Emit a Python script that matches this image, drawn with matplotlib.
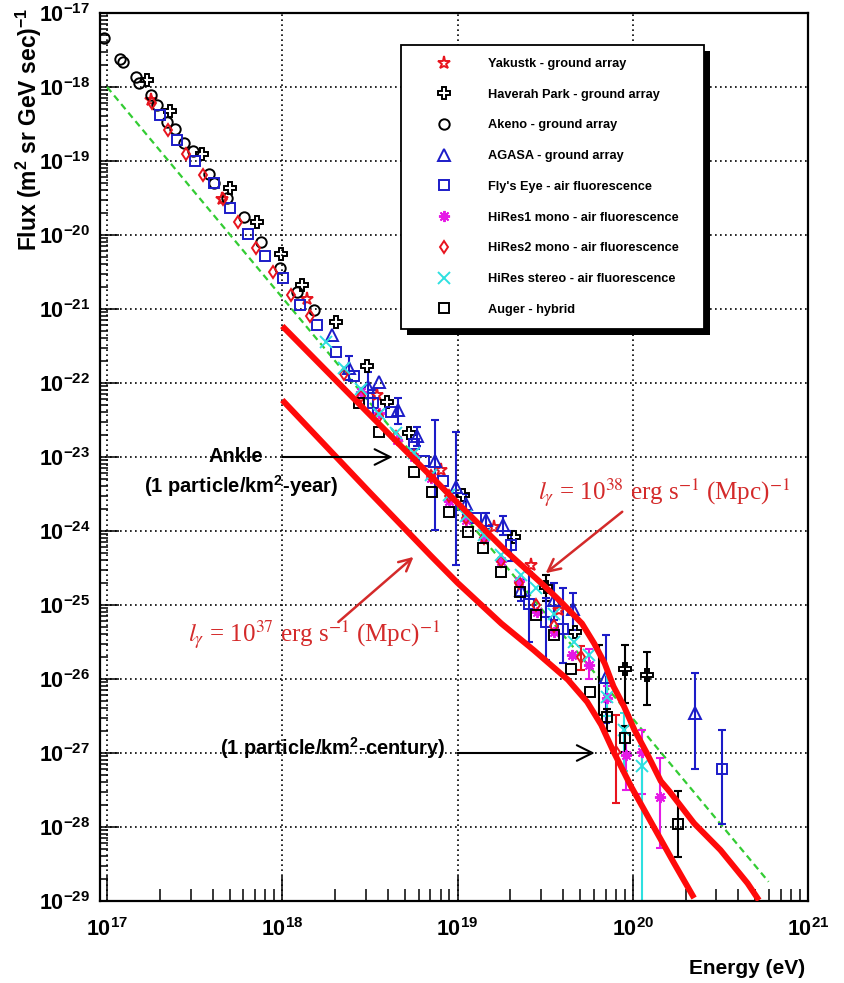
import numpy as np
import matplotlib
matplotlib.use("Agg")
import matplotlib.pyplot as plt
from matplotlib.ticker import FixedLocator, FuncFormatter, LogLocator, NullFormatter
from matplotlib.patches import Rectangle
from matplotlib.transforms import IdentityTransform

plt.rcParams['font.family'] = ['Liberation Sans', 'DejaVu Sans']
plt.rcParams['mathtext.fontset'] = 'custom'
plt.rcParams['mathtext.rm'] = 'Liberation Sans'
plt.rcParams['mathtext.bf'] = 'Liberation Sans:bold'
plt.rcParams['mathtext.it'] = 'Liberation Sans:italic'

# ---------------- data: log10(E / eV), log10(flux) ----------------
x_tick_exps = [17, 18, 19, 20, 21]
y_tick_exps = list(range(-29, -16))

yak_E = [17.25, 17.656, 18.143, 18.543, 18.905, 19.21, 19.42, 19.58]
yak_F = [-18.18, -19.51, -20.86, -22.16, -23.18, -23.94, -24.46, -25.07]

hp_E = [17.227, 17.36, 17.54, 17.70, 17.857, 17.99, 18.11, 18.305, 18.486, 18.60,
        18.724, 19.03, 19.325, 19.506, 19.668, 19.954, 20.08]
hp_F = [-17.91, -18.32, -18.90, -19.37, -19.82, -20.26, -20.68, -21.17, -21.77, -22.25,
        -22.67, -23.51, -24.08, -24.76, -25.36, -25.86, -25.95]
hp_errE = [19.506, 19.954, 20.08]
hp_errLo = [-24.95, -26.33, -26.35]
hp_errHi = [-24.60, -25.54, -25.64]

ak_E = [16.985, 17.074, 17.09, 17.166, 17.185, 17.25, 17.284, 17.34, 17.39, 17.437,
        17.49, 17.58, 17.61, 17.685, 17.784, 17.88, 17.985, 18.085, 18.18]
ak_F = [-17.34, -17.615, -17.66, -17.87, -17.95, -18.11, -18.24, -18.47, -18.57, -18.75,
        -18.87, -19.17, -19.30, -19.50, -19.76, -20.09, -20.45, -20.77, -21.02]

ag_E = [18.285, 18.38, 18.49, 18.55, 18.66, 18.77, 18.87, 18.99, 19.05, 19.16,
        19.26, 19.36, 19.55, 19.66, 19.85, 20.355]
ag_F = [-21.35, -21.80, -22.05, -21.98, -22.36, -22.72, -23.06, -23.40, -23.63, -23.85,
        -23.92, -24.80, -24.93, -25.05, -25.97, -26.455]
ag_errE = [18.38, 18.49, 18.66, 18.77, 18.87, 18.99, 19.05, 19.16, 19.26, 19.36, 19.55, 19.66, 19.85, 20.355]
ag_errLo = [-21.96, -22.20, -22.55, -22.85, -23.99, -24.46, -23.78, -23.97, -24.05, -24.95, -25.20, -25.34, -26.60, -27.21]
ag_errHi = [-21.64, -21.85, -22.20, -22.60, -22.50, -22.66, -23.50, -23.75, -23.80, -24.65, -24.70, -24.84, -25.41, -25.92]

fe_E = [17.30, 17.40, 17.50, 17.61, 17.70, 17.805, 17.904, 18.005, 18.104, 18.20,
        18.305, 18.41, 18.515, 18.62, 18.75, 18.81, 18.915, 19.106, 19.306, 19.41,
        19.506, 19.60, 20.51]
fe_F = [-18.38, -18.71, -19.00, -19.30, -19.63, -19.98, -20.29, -20.58, -20.94, -21.22,
        -21.58, -21.91, -22.27, -22.39, -22.82, -23.06, -23.33, -23.83, -24.19, -24.98,
        -25.23, -25.32, -27.21]
fe_errE = [18.515, 19.306, 19.41, 19.506, 19.60, 20.51]
fe_errLo = [-22.45, -24.40, -25.50, -25.74, -25.78, -27.96]
fe_errHi = [-22.10, -24.00, -24.55, -24.90, -24.77, -26.69]

h1_E = [18.45, 18.55, 18.655, 18.75, 18.85, 18.95, 19.05, 19.15, 19.25, 19.35,
        19.455, 19.55, 19.655, 19.75, 19.855, 19.96, 20.055, 20.155]
h1_F = [-22.12, -22.40, -22.77, -23.00, -23.28, -23.60, -23.85, -24.10, -24.40, -24.68,
        -25.09, -25.36, -25.68, -25.81, -26.26, -27.03, -26.98, -27.59]
h1_errE = [19.75, 19.855, 19.96, 20.055, 20.155]
h1_errLo = [-26.00, -26.40, -27.50, -27.55, -28.29]
h1_errHi = [-25.60, -26.10, -26.87, -26.69, -27.07]

h2_E = [17.255, 17.35, 17.45, 17.55, 17.66, 17.75, 17.85, 17.95, 18.05, 18.16,
        18.35, 18.45, 18.55, 18.65, 18.75, 18.85, 18.95, 19.05, 19.15, 19.25,
        19.35, 19.45, 19.55, 19.707, 19.907]
h2_F = [-18.22, -18.58, -18.90, -19.19, -19.51, -19.82, -20.17, -20.50, -20.81, -21.10,
        -21.88, -22.18, -22.45, -22.73, -22.98, -23.25, -23.53, -23.83, -24.10, -24.40,
        -24.70, -25.00, -25.28, -25.70, -26.98]
h2_errE = [19.707, 19.907]
h2_errLo = [-25.88, -27.68]
h2_errHi = [-25.56, -26.49]

hs_E = [18.25, 18.35, 18.45, 18.55, 18.65, 18.75, 18.85, 18.95, 19.05, 19.15,
        19.25, 19.36, 19.446, 19.55, 19.665, 19.75, 19.855, 19.95, 20.055]
hs_F = [-21.45, -21.80, -22.08, -22.42, -22.67, -22.95, -23.24, -23.52, -23.80, -24.05,
        -24.32, -24.59, -24.77, -25.12, -25.50, -25.68, -26.24, -26.69, -27.18]
hs_errE = [19.855, 19.95, 20.055]
hs_errLo = [-26.50, -27.24, -29.50]
hs_errHi = [-25.95, -26.46, -26.90]

au_E = [18.44, 18.55, 18.75, 18.857, 18.953, 19.058, 19.144, 19.25, 19.355, 19.45,
        19.55, 19.65, 19.755, 19.855, 19.955, 20.26]
au_F = [-22.27, -22.66, -23.20, -23.47, -23.74, -24.01, -24.23, -24.55, -24.82, -25.14,
        -25.41, -25.86, -26.17, -26.51, -26.80, -27.96]
au_errE = [19.81, 19.855, 19.955, 20.26]
au_errLo = [-26.49, -26.70, -26.98, -28.40]
au_errHi = [-25.54, -26.40, -26.63, -27.52]

# reference power law (green dashed)
ref_E = [17.0, 20.775]
ref_F = [-18.0, -28.74]

# model curves
m38_E = [18.0, 18.5, 19.0, 19.28, 19.49, 19.6, 19.71, 19.78, 19.84, 19.89, 19.95,
         20.01, 20.08, 20.16, 20.21, 20.35, 20.50, 20.655, 20.72]
m38_F = [-21.23, -22.43, -23.62, -24.28, -24.73, -24.98, -25.25, -25.52, -25.79, -26.10,
         -26.37, -26.69, -27.00, -27.38, -27.52, -27.95, -28.31, -28.76, -28.99]
m37_E = [18.0, 18.5, 18.85, 19.0, 19.25, 19.435, 19.63, 19.74, 19.82, 19.89, 19.99,
         20.12, 20.236, 20.35]
m37_F = [-22.23, -23.48, -24.34, -24.70, -25.25, -25.61, -26.01, -26.31, -26.62, -26.98,
         -27.45, -28.00, -28.49, -28.96]


def P(v):
    return 10.0 ** np.asarray(v, dtype=float)


RED = '#e8141e'
BLUE = '#1c1cc8'
MAG = '#e619e6'
CYAN = '#2ee0e0'
GREEN = '#33cc33'
MODEL = '#ff0a0a'
LABRED = '#d42a2a'

fig = plt.figure(figsize=(8.44, 9.83), dpi=100)
ax = fig.add_axes([100 / 844, 1 - 901 / 983, 708 / 844, 888 / 983])
ax.set_xscale('log')
ax.set_yscale('log')
ax.set_xlim(10 ** 16.96, 1e21)
ax.set_ylim(1e-29, 1e-17)

# green dashed reference line
ax.plot(P(ref_E), P(ref_F), ls=(0, (3, 2)), color=GREEN, lw=1.6, zorder=2)

series = [
    ("Yakustk - ground array", yak_E, yak_F, None, None, None,
     dict(marker='*', color=RED, ms=9.5)),
    ("Haverah Park - ground array", hp_E, hp_F, hp_errE, hp_errLo, hp_errHi,
     dict(marker='P', color='black', ms=8)),
    ("Akeno - ground array", ak_E, ak_F, None, None, None,
     dict(marker='o', color='black', ms=7.5)),
    ("AGASA - ground array", ag_E, ag_F, ag_errE, ag_errLo, ag_errHi,
     dict(marker='^', color=BLUE, ms=8)),
    ("Fly's Eye - air fluorescence", fe_E, fe_F, fe_errE, fe_errLo, fe_errHi,
     dict(marker='s', color=BLUE, ms=7.5)),
    ("HiRes1 mono - air fluorescence", h1_E, h1_F, h1_errE, h1_errLo, h1_errHi,
     dict(marker=(8, 2, 0), color=MAG, ms=8)),
    ("HiRes2 mono - air fluorescence", h2_E, h2_F, h2_errE, h2_errLo, h2_errHi,
     dict(marker='d', color=RED, ms=6.5)),
    ("HiRes stereo - air fluorescence", hs_E, hs_F, hs_errE, hs_errLo, hs_errHi,
     dict(marker='x', color=CYAN, ms=8)),
    ("Auger - hybrid", au_E, au_F, au_errE, au_errLo, au_errHi,
     dict(marker='s', color='black', ms=7.5)),
]

handles = []
labels = []
for lab, E, F, eE, eLo, eHi, st in series:
    c = st['color']
    if eE is not None:
        ax.vlines(P(eE), P(eLo), P(eHi), colors=c, lw=1.5, zorder=2.5)
        ax.plot(P(eE), P(eLo), ls='none', marker='_', ms=6, mew=1.5, color=c, zorder=2.5)
        ax.plot(P(eE), P(eHi), ls='none', marker='_', ms=6, mew=1.5, color=c, zorder=2.5)
    h, = ax.plot(P(E), P(F), ls='none', marker=st['marker'], ms=st['ms'],
                 mfc='none', mec=c, mew=1.4, zorder=3)
    handles.append(h)
    labels.append(lab)

# model curves
ax.plot(P(m38_E), P(m38_F), color=MODEL, lw=4.3, solid_capstyle='butt',
        solid_joinstyle='round', zorder=4)
ax.plot(P(m37_E), P(m37_F), color=MODEL, lw=4.3, solid_capstyle='butt',
        solid_joinstyle='round', zorder=4)

# axes styling
ax.xaxis.set_major_locator(FixedLocator(P(x_tick_exps)))
ax.yaxis.set_major_locator(FixedLocator(P(y_tick_exps)))
fmt = FuncFormatter(lambda v, p: r'$\mathbf{10^{%d}}$' % int(round(np.log10(v))))
ax.xaxis.set_major_formatter(fmt)
ax.yaxis.set_major_formatter(fmt)
ax.xaxis.set_minor_locator(LogLocator(base=10, subs=np.arange(2, 10) * 1.0, numticks=60))
ax.yaxis.set_minor_locator(LogLocator(base=10, subs=np.arange(2, 10) * 1.0, numticks=60))
ax.xaxis.set_minor_formatter(NullFormatter())
ax.yaxis.set_minor_formatter(NullFormatter())
ax.tick_params(which='both', direction='in', top=False, right=False, width=1.1, color='black')
ax.tick_params(axis='x', which='major', length=18, pad=12, labelsize=15.5)
ax.tick_params(axis='x', which='minor', length=9)
ax.tick_params(axis='y', which='major', length=14, pad=7, labelsize=15.5)
ax.tick_params(axis='y', which='minor', length=6)
for s in ax.spines.values():
    s.set_linewidth(1.6)
ax.grid(True, which='major', ls=(0, (1, 2)), color='black', lw=1.2, zorder=1)
ax.set_axisbelow(True)

# axis titles
fig.text(29 / 844, 1 - 8 / 983, r'Flux (m$^{\mathbf{2}}$ sr GeV sec)$^{\mathbf{-1}}$',
         rotation=90, ha='center', va='top', fontsize=16.5, fontweight='bold')
fig.text(805 / 844, 1 - 968 / 983, 'Energy (eV)', ha='right', va='center',
         fontsize=15, fontweight='bold')

# annotations
ax.text(10 ** 17.737, 10 ** -23.0, 'Ankle', ha='center', va='center',
        fontsize=14.5, fontweight='bold', zorder=5)
ax.text(10 ** 17.766, 10 ** -23.39, r'(1 particle/km$^{\mathbf{2}}$-year)', ha='center',
        va='center', fontsize=14.5, fontweight='bold', zorder=5)
ax.annotate('', xy=(10 ** 18.629, 1e-23), xytext=(1e18, 1e-23),
            arrowprops=dict(arrowstyle='->', lw=1.5, color='black', mutation_scale=28,
                            shrinkA=0, shrinkB=0), zorder=5)
ax.text(10 ** 18.29, 10 ** -26.93, r'(1 particle/km$^{\mathbf{2}}$-century)', ha='center',
        va='center', fontsize=14.5, fontweight='bold', zorder=5)
ax.annotate('', xy=(10 ** 19.783, 1e-27), xytext=(1e19, 1e-27),
            arrowprops=dict(arrowstyle='->', lw=1.5, color='black', mutation_scale=28,
                            shrinkA=0, shrinkB=0), zorder=5)

lab38 = r'$\mathit{l}_{\gamma}$ = 10$^{\mathrm{38}}$ erg s$^{\mathrm{-1}}$ (Mpc)$^{\mathrm{-1}}$'
lab37 = r'$\mathit{l}_{\gamma}$ = 10$^{\mathrm{37}}$ erg s$^{\mathrm{-1}}$ (Mpc)$^{\mathrm{-1}}$'
ax.text(10 ** 19.457, 10 ** -23.486, lab38, ha='left', va='center', fontsize=18,
        color=LABRED, family='Liberation Serif', math_fontfamily='stix', zorder=5)
ax.text(10 ** 17.463, 10 ** -25.405, lab37, ha='left', va='center', fontsize=18,
        color=LABRED, family='Liberation Serif', math_fontfamily='stix', zorder=5)
ax.annotate('', xy=(10 ** 19.503, 10 ** -24.57), xytext=(10 ** 19.94, 10 ** -23.74),
            arrowprops=dict(arrowstyle='->', lw=1.8, color=LABRED, mutation_scale=22,
                            shrinkA=0, shrinkB=0), zorder=5)
ax.annotate('', xy=(10 ** 18.749, 10 ** -24.35), xytext=(10 ** 18.32, 10 ** -25.23),
            arrowprops=dict(arrowstyle='->', lw=1.8, color=LABRED, mutation_scale=22,
                            shrinkA=0, shrinkB=0), zorder=5)

# legend
leg = ax.legend(handles, labels, loc='upper left',
                bbox_to_anchor=(401 / 844, 0.5, 303 / 844, 1 - 45 / 983 - 0.5),
                bbox_transform=fig.transFigure, mode='expand', borderaxespad=0,
                frameon=True, fancybox=False, edgecolor='black', framealpha=1,
                prop=dict(family='Liberation Sans', weight='bold', size=9.2),
                borderpad=1.02, labelspacing=1.465, handlelength=4.69, handletextpad=1.09,
                numpoints=1)
leg.get_frame().set_linewidth(1.3)
leg.set_zorder(10)

fig.canvas.draw()
bb = leg.get_frame().get_window_extent()
shadow = Rectangle((bb.x0 + 6, bb.y0 - 6), bb.width, bb.height, transform=IdentityTransform(),
                   facecolor='black', edgecolor='none', zorder=9.5, clip_on=False)
ax.add_patch(shadow)

fig.savefig('out.png', dpi=100)
